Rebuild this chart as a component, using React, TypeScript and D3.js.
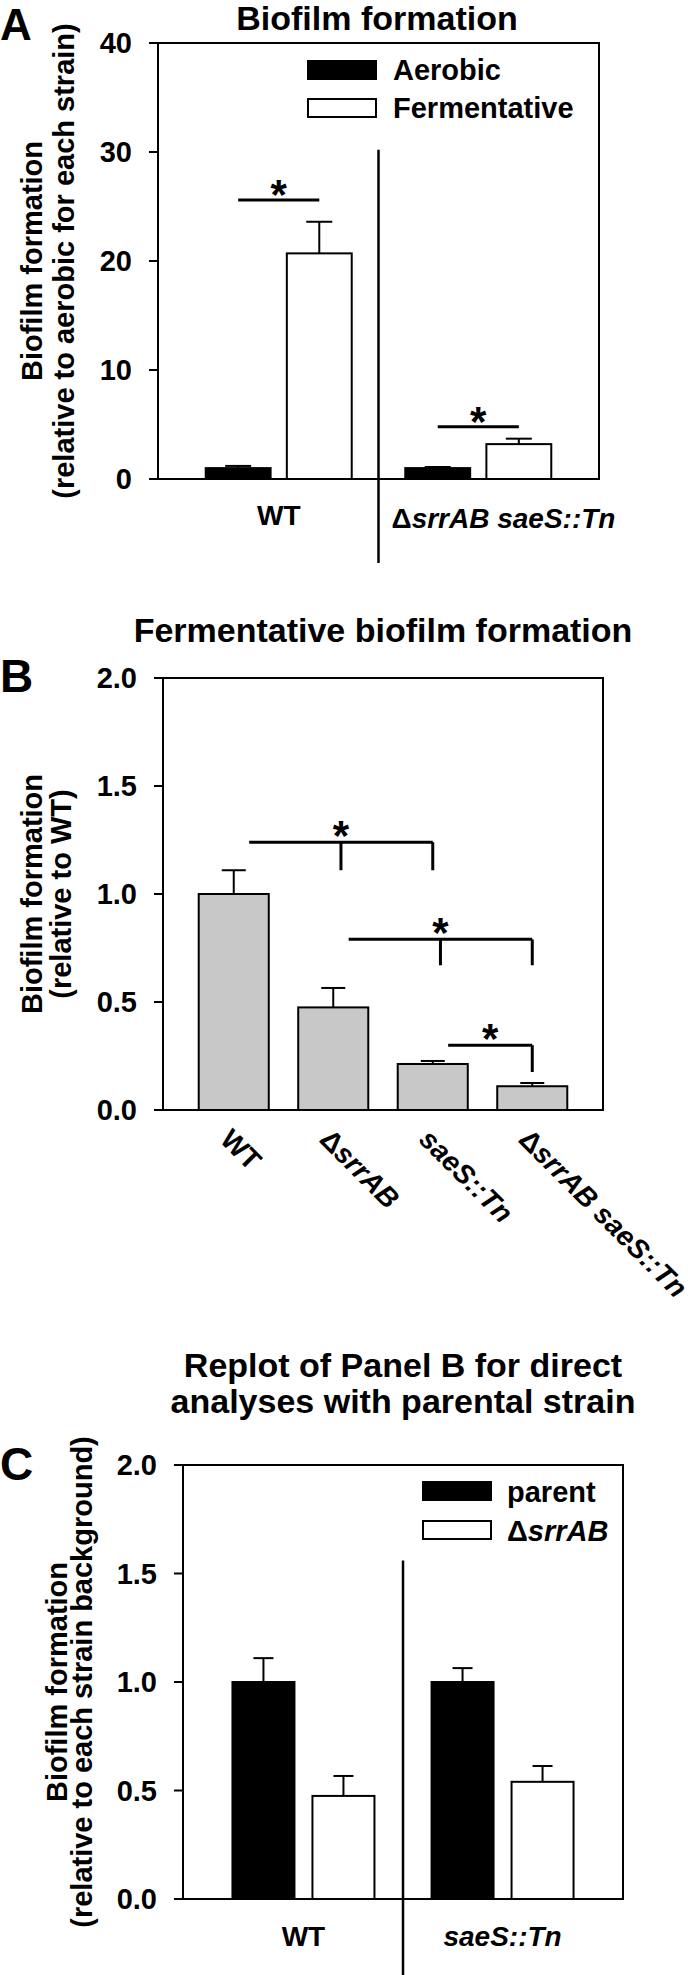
import React from "react";
import * as d3 from "d3";

const FONT = "'Liberation Sans', Arial, Helvetica, sans-serif";

// ---------- Panel A data ----------
const aGroups = ["WT", "ΔsrrAB saeS::Tn"];
const aSeries = ["Aerobic", "Fermentative"];
const aAerobic = [1.0, 1.0];
const aAerobicErr = [0.2, 0.1];
const aFermentative = [20.7, 3.2];
const aFermentativeErr = [2.9, 0.5];
const aTicks = [0, 10, 20, 30, 40];
const aSigLevel = [25.6, 4.8];

// ---------- Panel B data ----------
const bCategories = ["WT", "ΔsrrAB", "saeS::Tn", "ΔsrrAB saeS::Tn"];
const bValues = [1.0, 0.475, 0.213, 0.11];
const bErr = [0.11, 0.09, 0.014, 0.015];
const bTicks = [0, 0.5, 1.0, 1.5, 2.0];
const bBracketFrom = [0, 1, 2];
const bBracketTo = [2, 3, 3];
const bBracketLine = [1.24, 0.79, 0.3];
const bBracketDrop = [1.11, 0.67, 0.176];
const bBracketMidDrop = [true, true, false];

// ---------- Panel C data ----------
const cGroups = ["WT", "saeS::Tn"];
const cSeries = ["parent", "ΔsrrAB"];
const cParent = [1.0, 1.0];
const cParentErr = [0.11, 0.064];
const cSrrAB = [0.475, 0.54];
const cSrrABErr = [0.092, 0.073];
const cTicks = [0, 0.5, 1.0, 1.5, 2.0];

function Label({ text }: { text: string }) {
  if (text === "WT") return <tspan>{text}</tspan>;
  if (text.startsWith("Δ")) {
    return (
      <>
        <tspan fontStyle="normal">Δ</tspan>
        <tspan fontStyle="italic">{text.slice(1)}</tspan>
      </>
    );
  }
  return <tspan fontStyle="italic">{text}</tspan>;
}

function ErrorBar({ x, y0, y1, cap }: { x: number; y0: number; y1: number; cap: number }) {
  return (
    <g stroke="#000" strokeWidth={2}>
      <line x1={x} x2={x} y1={y0} y2={y1} />
      <line x1={x - cap / 2} x2={x + cap / 2} y1={y1} y2={y1} />
    </g>
  );
}

function Star({ x, y }: { x: number; y: number }) {
  return (
    <text x={x} y={y + 24} textAnchor="middle" fontSize={42} fontWeight="bold" fontFamily={FONT}>
      *
    </text>
  );
}

function YAxis({ y, ticks, x, right, fmt }: { y: any; ticks: number[]; x: number; right: number; fmt: (v: number) => string }) {
  const [b, t] = y.range();
  return (
    <g>
      <rect x={x} y={t} width={right - x} height={b - t} fill="none" stroke="#000" strokeWidth={2} />
      {ticks.map((v) => (
        <g key={v}>
          <line x1={x - 9} x2={x} y1={y(v)} y2={y(v)} stroke="#000" strokeWidth={2} />
          <text x={x - 26} y={y(v) + 10} textAnchor="end" fontSize={29} fontWeight="bold" fontFamily={FONT}>
            {fmt(v)}
          </text>
        </g>
      ))}
    </g>
  );
}

function PanelA() {
  const x0 = d3.scalePoint<string>().domain(aGroups).range([158, 599]).padding(0.605);
  const x1 = d3.scaleBand<string>().domain(aSeries).range([-73, 73]).paddingInner(0.2);
  const y = d3.scaleLinear().domain([0, 40]).range([479, 43]);
  const bw = x1.bandwidth();
  const vals = [aAerobic, aFermentative];
  const errs = [aAerobicErr, aFermentativeErr];
  const fills = ["#000", "#fff"];
  const divX = ((x0(aGroups[0]) as number) + (x0(aGroups[1]) as number)) / 2;
  return (
    <g>
      <text x={0} y={40} fontSize={44} fontWeight="bold" fontFamily={FONT}>A</text>
      <text x={377} y={30} textAnchor="middle" fontSize={34} fontWeight="bold" fontFamily={FONT}>Biofilm formation</text>
      <YAxis y={y} ticks={aTicks} x={158} right={599} fmt={(v) => d3.format("d")(v)} />
      <line x1={divX} x2={divX} y1={y(30.2)} y2={y(0) + 84} stroke="#000" strokeWidth={2.5} />
      {aGroups.map((g, gi) => (
        <g key={g}>
          {aSeries.map((s, si) => {
            const bx = (x0(g) as number) + (x1(s) as number);
            const v = vals[si][gi];
            return (
              <g key={s}>
                <ErrorBar x={bx + bw / 2} y0={y(v)} y1={y(v + errs[si][gi])} cap={26} />
                <rect x={bx} y={y(v)} width={bw} height={y(0) - y(v)} fill={fills[si]} stroke="#000" strokeWidth={2} />
              </g>
            );
          })}
          {(() => {
            const xa = (x0(g) as number) + (x1(aSeries[0]) as number) + bw / 2;
            const xb = (x0(g) as number) + (x1(aSeries[1]) as number) + bw / 2;
            return (
              <g>
                <line x1={xa} x2={xb} y1={y(aSigLevel[gi])} y2={y(aSigLevel[gi])} stroke="#000" strokeWidth={3} />
                <Star x={(xa + xb) / 2} y={y(aSigLevel[gi]) - 15} />
              </g>
            );
          })()}
        </g>
      ))}
      <text x={x0(aGroups[0])} y={525} textAnchor="middle" fontSize={28} fontWeight="bold" fontFamily={FONT}>
        <Label text={aGroups[0]} />
      </text>
      <text x={divX + 13} y={528} textAnchor="start" fontSize={28} fontWeight="bold" fontFamily={FONT}>
        <Label text={aGroups[1]} />
      </text>
      {aSeries.map((s, i) => (
        <g key={s}>
          <rect x={308} y={61 + i * 38} width={68} height={18} fill={fills[i]} stroke="#000" strokeWidth={2} />
          <text x={393} y={80 + i * 38} fontSize={29} fontWeight="bold" fontFamily={FONT}>{s}</text>
        </g>
      ))}
      <g fontSize={29} fontWeight="bold" fontFamily={FONT} textAnchor="middle">
        <text transform={`translate(42,${(y(0) + y(40)) / 2}) rotate(-90)`}>Biofilm formation</text>
        <text transform={`translate(74,${(y(0) + y(40)) / 2}) rotate(-90)`}>(relative to aerobic for each strain)</text>
      </g>
    </g>
  );
}

function PanelB() {
  const x = d3.scaleBand<string>().domain(bCategories).range([163, 603]).paddingInner(0.296).paddingOuter(0.359);
  const y = d3.scaleLinear().domain([0, 2]).range([1110, 678]);
  const bw = x.bandwidth();
  const cx = (i: number) => (x(bCategories[i]) as number) + bw / 2;
  return (
    <g>
      <text x={0} y={692} fontSize={46} fontWeight="bold" fontFamily={FONT}>B</text>
      <text x={383} y={642} textAnchor="middle" fontSize={34} fontWeight="bold" fontFamily={FONT}>Fermentative biofilm formation</text>
      <YAxis y={y} ticks={bTicks} x={163} right={603} fmt={(v) => d3.format(".1f")(v)} />
      {bCategories.map((c, i) => (
        <g key={c}>
          <ErrorBar x={cx(i)} y0={y(bValues[i])} y1={y(bValues[i] + bErr[i])} cap={24} />
          <rect x={x(c)} y={y(bValues[i])} width={bw} height={y(0) - y(bValues[i])} fill="#c8c8c8" stroke="#000" strokeWidth={2} />
          <text
            transform={`translate(${cx(i) - 15},${y(0) + 31}) rotate(45)`}
            fontSize={28}
            fontWeight="bold"
            fontFamily={FONT}
          >
            <Label text={c} />
          </text>
        </g>
      ))}
      {bBracketFrom.map((f, i) => {
        const xl = (x(bCategories[f]) as number) + bw * 0.72;
        const xr = cx(bBracketTo[i]);
        const xm = (xl + xr) / 2;
        const yl = y(bBracketLine[i]);
        const yd = y(bBracketDrop[i]);
        return (
          <g key={i}>
            <g stroke="#000" strokeWidth={3} fill="none">
              <line x1={xl} x2={xr} y1={yl} y2={yl} />
              <line x1={xr} x2={xr} y1={yl} y2={yd} />
              {bBracketMidDrop[i] && <line x1={xm} x2={xm} y1={yl} y2={yd} />}
            </g>
            <Star x={xm} y={yl - 16} />
          </g>
        );
      })}
      <g fontSize={29} fontWeight="bold" fontFamily={FONT} textAnchor="middle">
        <text transform={`translate(42,${(y(0) + y(2)) / 2}) rotate(-90)`}>Biofilm formation</text>
        <text transform={`translate(71,${(y(0) + y(2)) / 2}) rotate(-90)`}>(relative to WT)</text>
      </g>
    </g>
  );
}

function PanelC() {
  const x0 = d3.scalePoint<string>().domain(cGroups).range([183, 623]).padding(0.605);
  const x1 = d3.scaleBand<string>().domain(cSeries).range([-71, 71]).paddingInner(0.225);
  const y = d3.scaleLinear().domain([0, 2]).range([1899, 1465]);
  const bw = x1.bandwidth();
  const vals = [cParent, cSrrAB];
  const errs = [cParentErr, cSrrABErr];
  const fills = ["#000", "#fff"];
  const divX = ((x0(cGroups[0]) as number) + (x0(cGroups[1]) as number)) / 2;
  return (
    <g>
      <text x={0} y={1480} fontSize={46} fontWeight="bold" fontFamily={FONT}>C</text>
      <text x={403} y={1377} textAnchor="middle" fontSize={34} fontWeight="bold" fontFamily={FONT}>Replot of Panel B for direct</text>
      <text x={403} y={1413} textAnchor="middle" fontSize={34} fontWeight="bold" fontFamily={FONT}>analyses with parental strain</text>
      <YAxis y={y} ticks={cTicks} x={183} right={623} fmt={(v) => d3.format(".1f")(v)} />
      <line x1={divX} x2={divX} y1={y(1.56)} y2={y(0) + 84} stroke="#000" strokeWidth={2.5} />
      {cGroups.map((g, gi) => (
        <g key={g}>
          {cSeries.map((s, si) => {
            const bx = (x0(g) as number) + (x1(s) as number);
            const v = vals[si][gi];
            return (
              <g key={s}>
                <ErrorBar x={bx + bw / 2} y0={y(v)} y1={y(v + errs[si][gi])} cap={20} />
                <rect x={bx} y={y(v)} width={bw} height={y(0) - y(v)} fill={fills[si]} stroke="#000" strokeWidth={2} />
              </g>
            );
          })}
          <text x={x0(g)} y={1946} textAnchor="middle" fontSize={28} fontWeight="bold" fontFamily={FONT}>
            <Label text={g} />
          </text>
        </g>
      ))}
      {cSeries.map((s, i) => (
        <g key={s}>
          <rect x={423} y={1482 + i * 39} width={68} height={18} fill={fills[i]} stroke="#000" strokeWidth={2} />
          <text x={507} y={1502 + i * 39} fontSize={29} fontWeight="bold" fontFamily={FONT}>
            {i === 0 ? s : <Label text={s} />}
          </text>
        </g>
      ))}
      <g fontSize={29} fontWeight="bold" fontFamily={FONT} textAnchor="middle">
        <text transform={`translate(67,${(y(0) + y(2)) / 2}) rotate(-90)`}>Biofilm formation</text>
        <text transform={`translate(92,${(y(0) + y(2)) / 2}) rotate(-90)`}>(relative to each strain background)</text>
      </g>
    </g>
  );
}

export default function App() {
  return (
    <div style={{ position: "absolute", left: 0, top: 0 }}>
      <svg width={700} height={1975} viewBox="0 0 700 1975" style={{ display: "block", background: "#fff" }}>
        <rect x={0} y={0} width={700} height={1975} fill="#fff" />
        <PanelA />
        <PanelB />
        <PanelC />
      </svg>
    </div>
  );
}
